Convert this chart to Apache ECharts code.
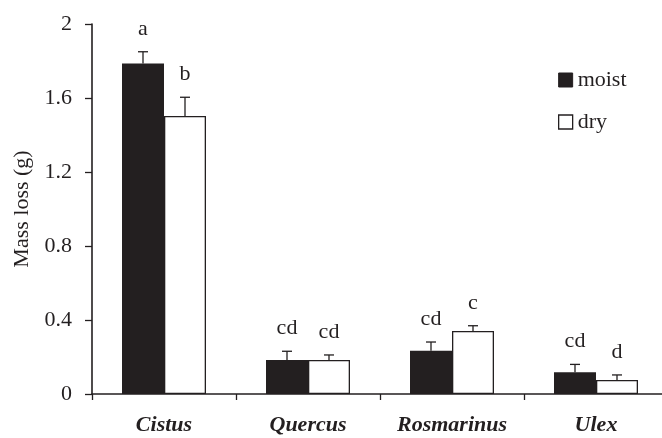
<!DOCTYPE html>
<html>
<head>
<meta charset="utf-8">
<script src="https://cdn.jsdelivr.net/npm/echarts@6/dist/echarts.min.js"></script>
<style>
html,body{margin:0;padding:0;background:#fff;}
#chart{width:662px;height:438px;}
</style>
</head>
<body>
<div id="chart"></div>
<script>
const categories = ['Cistus', 'Quercus', 'Rosmarinus', 'Ulex'];
const moist = [1.787, 0.184, 0.234, 0.117];
const dry = [1.503, 0.184, 0.341, 0.076];
const moistErr = [0.063, 0.047, 0.047, 0.043];
const dryErr = [0.101, 0.027, 0.028, 0.027];
const moistLetters = ['a', 'cd', 'cd', 'cd'];
const dryLetters = ['b', 'cd', 'c', 'd'];
const yTicks = [0, 0.4, 0.8, 1.2, 1.6, 2];

const FONT = 'Liberation Serif';
const INK = '#231f20';
const BAR_W = 42;

function errSeries(values, errs, letters, sign) {
  return {
    type: 'custom',
    z: 5,
    silent: true,
    data: values.map((v, i) => [i, v, v + errs[i]]),
    renderItem: function (params, api) {
      const i = api.value(0);
      const base = api.coord([i, api.value(1)]);
      const top = api.coord([i, api.value(2)]);
      const x = base[0] + sign * BAR_W / 2;
      return {
        type: 'group',
        children: [
          { type: 'line', shape: { x1: x, y1: base[1], x2: x, y2: top[1] }, style: { stroke: INK, lineWidth: 1.3 } },
          { type: 'line', shape: { x1: x - 5, y1: top[1], x2: x + 5, y2: top[1] }, style: { stroke: INK, lineWidth: 1.3 } },
          { type: 'text', x: x, y: top[1] - 12, style: { text: letters[i], align: 'center', verticalAlign: 'bottom', fontFamily: FONT, fontSize: 22, fill: INK } }
        ]
      };
    }
  };
}

const chart = echarts.init(document.getElementById('chart'));
chart.setOption({
  animation: false,
  backgroundColor: '#fff',
  textStyle: { fontFamily: FONT, color: INK },
  grid: { left: 92, top: 24, width: 576, height: 370, outerBoundsMode: 'none', containLabel: false },
  legend: {
    orient: 'vertical',
    left: 558,
    top: 69,
    padding: 0,
    itemWidth: 14,
    itemHeight: 14,
    itemGap: 20,
    icon: 'rect',
    textStyle: { fontFamily: FONT, fontSize: 22, color: INK },
    data: [
      { name: 'moist', itemStyle: { color: INK, borderColor: INK, borderWidth: 1 } },
      { name: 'dry', itemStyle: { color: '#fff', borderColor: INK, borderWidth: 1.3 } }
    ]
  },
  xAxis: {
    type: 'category',
    data: categories,
    axisLine: { lineStyle: { color: INK, width: 1.6 } },
    axisTick: { show: true, length: 6, lineStyle: { color: INK, width: 1.3 } },
    axisLabel: { margin: 20, fontFamily: FONT, fontSize: 22, fontStyle: 'italic', fontWeight: 'bold', color: INK }
  },
  yAxis: {
    type: 'value',
    min: 0,
    max: 2,
    interval: 0.4,
    name: 'Mass loss (g)',
    nameLocation: 'middle',
    nameGap: 58,
    nameTextStyle: { fontFamily: FONT, fontSize: 22, color: INK },
    splitLine: { show: false },
    axisLine: { show: true, lineStyle: { color: INK, width: 1.6 } },
    axisTick: { show: true, length: 7, lineStyle: { color: INK, width: 1.3 } },
    axisLabel: {
      margin: 20, fontFamily: FONT, fontSize: 22, color: INK,
      formatter: v => (yTicks.some(t => Math.abs(t - v) < 1e-9) ? String(+v.toFixed(1)) : '')
    }
  },
  series: [
    { name: 'moist', type: 'bar', data: moist, barWidth: BAR_W, barGap: '0%', itemStyle: { color: INK } },
    { name: 'dry', type: 'bar', data: dry, barWidth: BAR_W, barGap: '0%', itemStyle: { color: '#fff', borderColor: INK, borderWidth: 1.3 } },
    errSeries(moist, moistErr, moistLetters, -1),
    errSeries(dry, dryErr, dryLetters, 1)
  ]
});
</script>
</body>
</html>
